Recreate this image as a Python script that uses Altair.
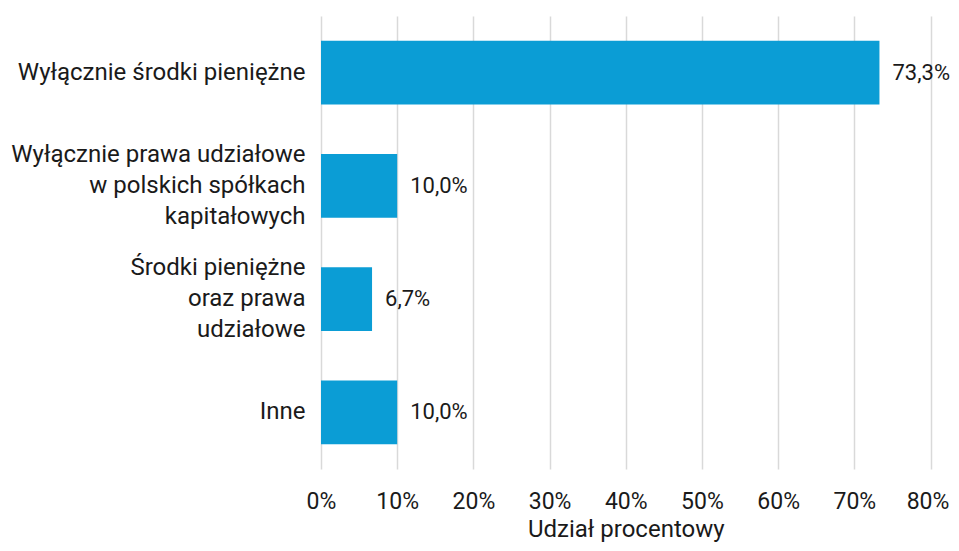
import altair as alt
import pandas as pd

categories = [
    "Wyłącznie środki pieniężne",
    "Wyłącznie prawa udziałowe|w polskich spółkach|kapitałowych",
    "Środki pieniężne|oraz prawa|udziałowe",
    "Inne",
]
values = [73.3, 10.0, 6.7, 10.0]
x_ticks = [0, 10, 20, 30, 40, 50, 60, 70, 80]

df = pd.DataFrame({"cat": categories, "val": values})

FONT = "Roboto"
TXT = "#1a1a1a"
FS = 24

y = alt.Y(
    "cat:N",
    sort=categories,
    scale=alt.Scale(paddingInner=0.435, paddingOuter=0.2175),
    axis=alt.Axis(
        title=None,
        labelExpr="split(datum.label, '|')",
        labelFont=FONT,
        labelFontSize=FS,
        labelColor=TXT,
        labelLineHeight=31,
        labelPadding=16,
        labelLimit=400,
        labelOffset={"condition": {"test": "indexof(datum.value, '|') >= 0", "value": -31}, "value": 0},
        ticks=False,
        domain=False,
        grid=False,
    ),
)

x = alt.X(
    "val:Q",
    scale=alt.Scale(domain=[0, 80], nice=False),
    axis=alt.Axis(
        values=x_ticks,
        labelExpr="datum.value + '%'",
        labelFlush=False,
        labelOverlap=False,
        labelOffset={"condition": {"test": "datum.value >= 80", "value": -3}, "value": 0},
        title="Udział procentowy",
        titleFont=FONT,
        titleFontSize=FS,
        titleFontWeight="normal",
        titleColor=TXT,
        titlePadding=4,
        labelFont=FONT,
        labelFontSize=23,
        labelColor=TXT,
        labelPadding=21,
        ticks=False,
        domain=False,
        grid=True,
        gridColor="#d9d9d9",
        gridWidth=1.5,
    ),
)

bars = alt.Chart(df).mark_bar(color="#0b9dd5").encode(x=x, y=y)

text = (
    alt.Chart(df)
    .transform_calculate(lbl="replace(format(datum.val, '.1f'), '.', ',') + '%'")
    .mark_text(align="left", baseline="middle", dx=13, font=FONT, fontSize=22, color=TXT)
    .encode(x=alt.X("val:Q"), y=alt.Y("cat:N", sort=categories), text="lbl:N")
)

chart = (
    alt.layer(bars, text)
    .properties(
        width=609.5,
        height=453,
        autosize=alt.AutoSizeParams(type="none"),
        padding={"left": 313, "top": 8, "right": 20, "bottom": 74},
        background="white",
    )
    .configure_view(stroke=None)
)

chart.save("out.html", embed_options={"renderer": "svg", "actions": False})
